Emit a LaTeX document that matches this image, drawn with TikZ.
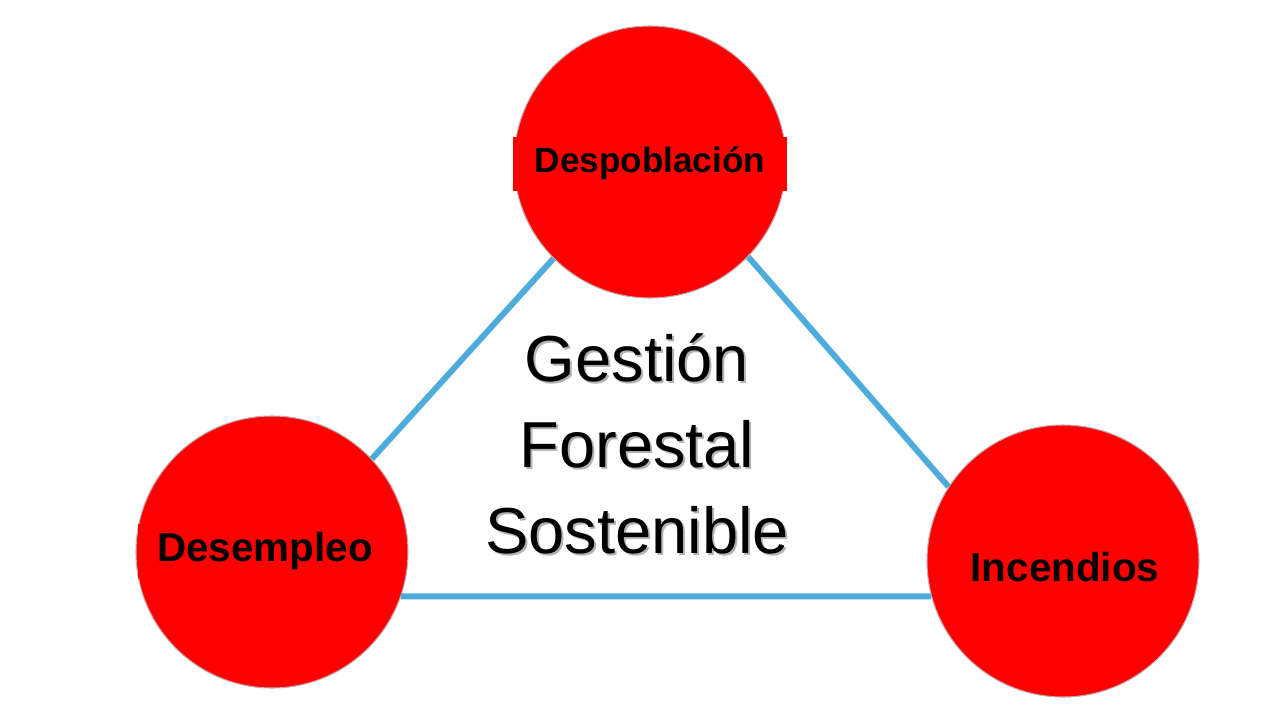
\documentclass[tikz,border=0pt]{standalone}
\usepackage{fontspec}
\setmainfont{Liberation Sans}
\usepackage{xcolor}
\usetikzlibrary{positioning,calc}

\definecolor{linkblue}{RGB}{78,172,220}
\definecolor{rimgray}{RGB}{196,170,178}

\begin{document}
\begin{tikzpicture}[
    topic/.style={circle, draw=rimgray, line width=0.6pt, fill=red,
        minimum size=5.44cm, inner sep=0pt},
    topiclbl/.style={fill=red, inner sep=0pt, minimum height=1.08cm,
        font=\fontsize{23}{26}\selectfont\bfseries},
    link/.style={line width=3.4pt, color=linkblue},
    core/.style={align=center, font=\fontsize{37}{48.8}\selectfont},
]
\useasboundingbox (0,0) rectangle (25.6,-14.4);

% Three topics
\node[topic] (desp) at (13.0,-3.24) {};
\node[topic] (desem) at (5.44,-11.04) {};
\node[topic] (incen) at (21.26,-11.22) {};

\node[topiclbl, minimum width=5.48cm, font=\fontsize{20}{24}\selectfont\bfseries]
    (despl) at ($(desp)+(0,-0.03)$) {Despoblación};
\node[topiclbl, minimum width=5.1cm] (deseml) at ($(desem)+(-0.14,0.02)$) {Desempleo};
\node[topiclbl] (incenl) at ($(incen)+(0.04,-0.12)$) {Incendios};

% Links between topics
\draw[link] (desp.225) -- (desem.43);
\draw[link] (desp.316) -- (incen.147);
\draw[link] (desem.341) -- (incen.195);

% Centre text with its shadow
\node[core, text=black!30] (coreshadow) at (12.78,-8.92) {Gestión\\Forestal\\Sostenible};
\node[core] (coretxt) at (12.74,-8.88) {Gestión\\Forestal\\Sostenible};

\end{tikzpicture}
\end{document}
